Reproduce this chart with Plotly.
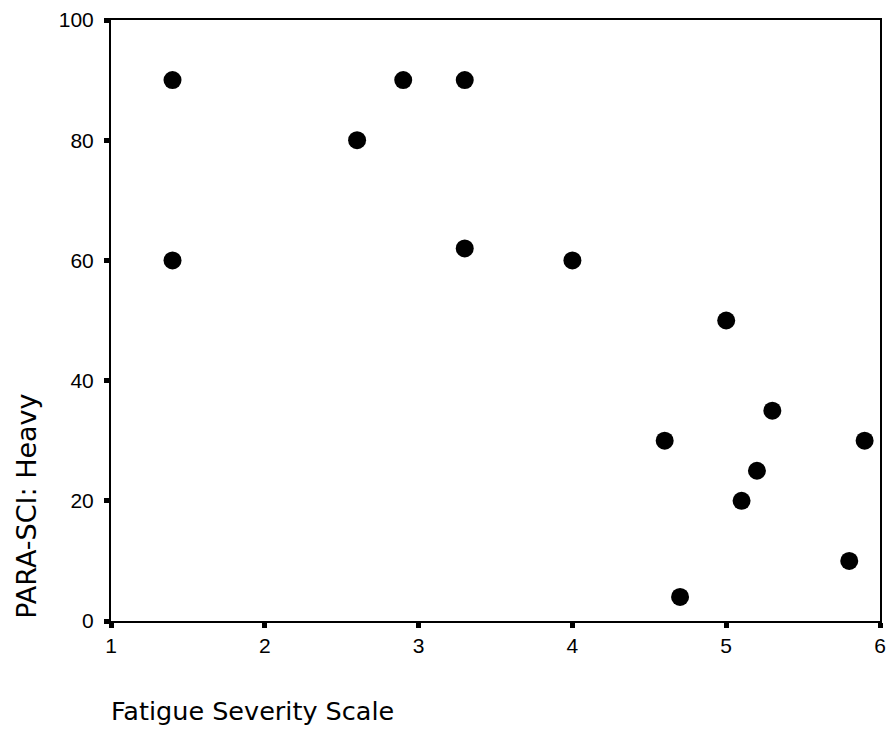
import plotly.graph_objects as go

fatigue = [1.4, 1.4, 2.6, 2.9, 3.3, 3.3, 4.0, 4.6, 4.7, 5.0, 5.1, 5.2, 5.3, 5.8, 5.9]
para_sci_heavy = [90, 60, 80, 90, 90, 62, 60, 30, 4, 50, 20, 25, 35, 10, 30]
x_ticks = [1, 2, 3, 4, 5, 6]
y_ticks = [0, 20, 40, 60, 80, 100]

TICK_FONT = "Liberation Sans, Arial, sans-serif"
TITLE_FONT = "DejaVu Sans, sans-serif"

fig = go.Figure(go.Scatter(
    x=fatigue, y=para_sci_heavy, mode="markers",
    marker=dict(size=18, color="black", line=dict(width=0)),
    cliponaxis=False,
))

axis_common = dict(
    showline=True, linecolor="black", linewidth=2, mirror=True,
    showgrid=False, zeroline=False, automargin=False,
    ticks="outside", ticklen=5, tickwidth=5, tickcolor="black",
    tickfont=dict(family=TICK_FONT, size=21, color="black"),
)

fig.update_layout(
    width=887, height=731,
    margin=dict(l=111, r=7, t=20, b=110),
    paper_bgcolor="white", plot_bgcolor="white",
    showlegend=False,
    xaxis=dict(range=[1, 6], tickvals=x_ticks, ticklabelstandoff=0, **axis_common),
    yaxis=dict(range=[0, 100], tickvals=y_ticks, ticklabelstandoff=6, **axis_common),
    annotations=[
        dict(text="Fatigue Severity Scale", xref="paper", yref="paper",
             x=0, xshift=-2, y=-0.15, xanchor="left", yanchor="middle", showarrow=False,
             font=dict(family=TITLE_FONT, size=25.5, color="black")),
        dict(text="PARA-SCI: Heavy", xref="paper", yref="paper",
             x=0, xshift=-84, y=0.19, xanchor="center", yanchor="middle",
             textangle=-90, showarrow=False,
             font=dict(family=TITLE_FONT, size=27, color="black")),
    ],
)

fig.write_html(
    "out.html",
    config={"displayModeBar": False},
    post_script="document.body.style.margin='0';document.body.style.overflow='hidden';",
)
